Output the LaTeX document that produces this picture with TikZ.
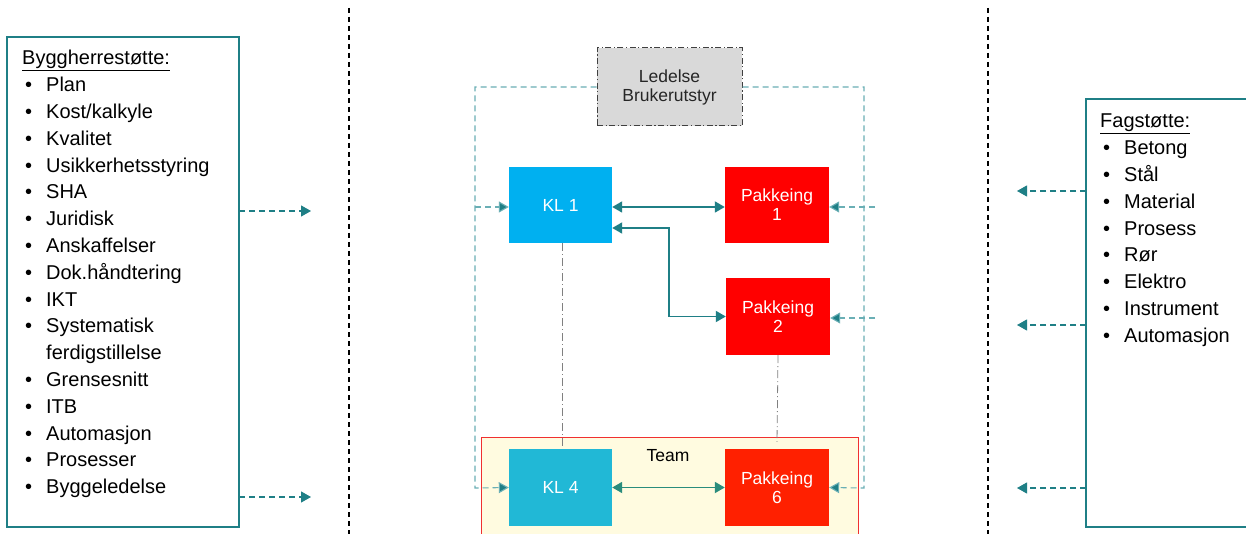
\documentclass[tikz,border=0pt]{standalone}
\usepackage{fontspec}
\setmainfont{Liberation Sans}
\usetikzlibrary{arrows.meta}
\definecolor{tealA}{HTML}{1F7F86}
\definecolor{tealF}{HTML}{6AAFB5}
\definecolor{tealG}{HTML}{2A8C7C}
\definecolor{klblue}{HTML}{00B0F0}
\definecolor{klblueB}{HTML}{21B8D6}
\definecolor{pkred}{HTML}{FF0000}
\definecolor{pkredB}{HTML}{FF2000}
\definecolor{ledgray}{HTML}{D9D9D9}
\definecolor{teamfill}{HTML}{FFFBE0}
\definecolor{teamline}{HTML}{F03030}
\newcommand\itm{\hspace*{3pt}\textbullet}
\newcommand\ulhead[1]{\underline{#1}}
\tikzset{
  listbox/.style={draw=tealA, line width=2pt, inner sep=0pt},
  cbox/.style={inner sep=0pt, text=white, align=center, font=\fontsize{17.5}{20}\selectfont},
  solidarr/.style={draw=tealA, line width=1.8pt, {Triangle[length=10pt,width=11pt]}-{Triangle[length=10pt,width=11pt]}},
  dasharr/.style={draw=tealA, line width=1.1pt, dash pattern=on 6pt off 4pt, -{Triangle[length=10pt,width=11pt]}},
  framel/.style={draw=tealF, line width=1.1pt, dash pattern=on 6pt off 4pt},
  framearr/.style={framel, -{Triangle[length=10pt,width=11pt,fill=tealA]}},
  ddline/.style={draw=gray, line width=0.8pt, dash pattern=on 8pt off 3pt on 1pt off 3pt},
  sepline/.style={draw=black, line width=1.6pt, dash pattern=on 5pt off 4pt},
  listtext/.style={anchor=base west, inner sep=0pt, font=\fontsize{20}{26.8}\selectfont}
}
\begin{document}
\begin{tikzpicture}[x=1pt,y=-1pt]
\clip (0,0) rectangle (1246,534);
\fill[white] (0,0) rectangle (1246,534);

% separators
\coordinate (s1t) at (349,8);
\coordinate (s1b) at (349,534);
\coordinate (s2t) at (988,8);
\coordinate (s2b) at (988,534);
\draw[sepline] (s1t) -- (s1b);
\draw[sepline] (s2t) -- (s2b);

% left list box
\node[listbox, minimum width=232pt, minimum height=490pt] (lbox) at (123,282) {};
\node[listtext] (ltext) at (22,65) {\begin{tabular}[t]{@{}p{24pt}@{}l@{}}
\multicolumn{2}{@{}l@{}}{\ulhead{Byggherrestøtte:}}\\
\itm & Plan\\
\itm & Kost/kalkyle\\
\itm & Kvalitet\\
\itm & Usikkerhetsstyring\\
\itm & SHA\\
\itm & Juridisk\\
\itm & Anskaffelser\\
\itm & Dok.håndtering\\
\itm & IKT\\
\itm & Systematisk\\
 & ferdigstillelse\\
\itm & Grensesnitt\\
\itm & ITB\\
\itm & Automasjon\\
\itm & Prosesser\\
\itm & Byggeledelse
\end{tabular}};

% right list box
\node[listbox, minimum width=166pt, minimum height=428pt] (rbox) at (1169,313) {};
\node[listtext] (rtext) at (1100,128) {\begin{tabular}[t]{@{}p{24pt}@{}l@{}}
\multicolumn{2}{@{}l@{}}{\ulhead{Fagstøtte:}}\\
\itm & Betong\\
\itm & Stål\\
\itm & Material\\
\itm & Prosess\\
\itm & Rør\\
\itm & Elektro\\
\itm & Instrument\\
\itm & Automasjon
\end{tabular}};

% team box
\node[draw=teamline, fill=teamfill, line width=1pt, minimum width=377pt, minimum height=112pt, inner sep=0pt] (team) at (669.5,493) {};
\node[inner sep=0pt, font=\fontsize{17.5}{20}\selectfont] (teamlbl) at (668,456) {Team};

% central boxes
\node[cbox, fill=ledgray, draw=black!75, line width=1pt, dash pattern=on 6pt off 2.5pt on 1.2pt off 2.5pt, text=black!85, minimum width=145pt, minimum height=78pt] (led) at (669.5,87) {Ledelse\\[-1pt]Brukerutstyr};
\node[cbox, fill=klblue, minimum width=103pt, minimum height=76pt] (kl1) at (560.5,205) {KL 1};
\node[cbox, fill=pkred, minimum width=104pt, minimum height=76pt] (pak1) at (777,205) {Pakkeing\\[-1pt]1};
\node[cbox, fill=pkred, minimum width=104pt, minimum height=77pt] (pak2) at (778,316.5) {Pakkeing\\[-1pt]2};
\node[cbox, fill=klblueB, minimum width=103pt, minimum height=77pt] (kl4) at (560.5,487.5) {KL 4};
\node[cbox, fill=pkredB, minimum width=104pt, minimum height=77pt] (pak6) at (777,487.5) {Pakkeing\\[-1pt]6};

% dash-dot verticals
\draw[ddline] ([xshift=1.5pt]kl1.south) -- ([xshift=1.5pt]kl4.north);
\draw[ddline] (pak2.south) -- ([yshift=7pt]pak6.north);

% solid arrows
\draw[solidarr] ([yshift=-2pt]kl1.east) -- ([yshift=-2pt]pak1.west);
\draw[solidarr] ([yshift=-23pt]kl1.east) -| ([xshift=-57pt]pak2.west) -- (pak2.west);
\draw[solidarr, draw=tealG] (kl4.east) -- (pak6.west);

% dashed frame
\coordinate (fLt) at (475,87);
\coordinate (fLb) at (475,488);
\coordinate (fL1) at (475,207);
\coordinate (fRt) at (864,87);
\coordinate (fRb) at (864,488);
\coordinate (fR1) at (875,207);
\coordinate (fR2) at (875,318);
\draw[framearr] (led.west) -- (fLt) -- (fLb) -- (kl4.west);
\draw[framearr] (fL1) -- ([yshift=-2pt]kl1.west);
\draw[framearr] (led.east) -- (fRt) -- (fRb) -- (pak6.east);
\draw[framearr] (fR1) -- ([yshift=-2pt]pak1.east);
\draw[framearr] (fR2) -- ([yshift=-1.5pt]pak2.east);

% left side arrows
\coordinate (la1s) at (239,211);
\coordinate (la1e) at (311,211);
\coordinate (la2s) at (239,497);
\coordinate (la2e) at (311,497);
\draw[dasharr] (la1s) -- (la1e);
\draw[dasharr] (la2s) -- (la2e);

% right side arrows
\coordinate (ra1s) at (1086,191);
\coordinate (ra1e) at (1017,191);
\coordinate (ra2s) at (1086,325);
\coordinate (ra2e) at (1017,325);
\coordinate (ra3s) at (1086,488);
\coordinate (ra3e) at (1017,488);
\draw[dasharr] (ra1s) -- (ra1e);
\draw[dasharr] (ra2s) -- (ra2e);
\draw[dasharr] (ra3s) -- (ra3e);
\end{tikzpicture}
\end{document}
